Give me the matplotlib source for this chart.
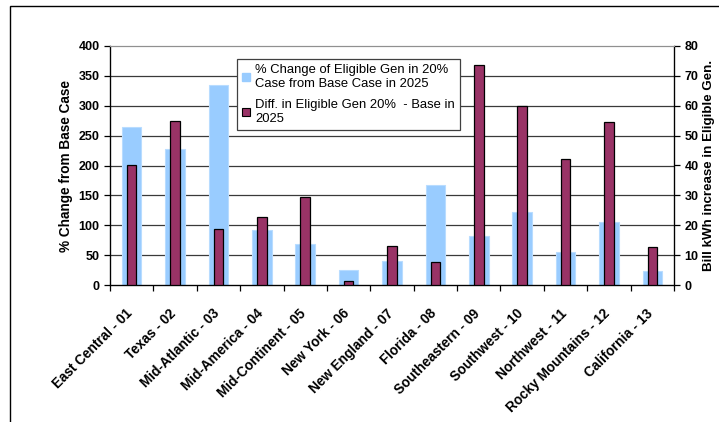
import matplotlib
matplotlib.use("Agg")
import matplotlib.pyplot as plt
import matplotlib.transforms as mtransforms
import numpy as np
from matplotlib.patches import Rectangle

plt.rcParams['font.family'] = ['Liberation Sans', 'DejaVu Sans']

regions = ["East Central - 01", "Texas - 02", "Mid-Atlantic - 03", "Mid-America - 04",
           "Mid-Continent - 05", "New York - 06", "New England - 07", "Florida - 08",
           "Southeastern - 09", "Southwest - 10", "Northwest - 11", "Rocky Mountains - 12",
           "California - 13"]
pct_change = [264, 228, 335, 92, 68, 25, 40, 167, 82, 122, 56, 106, 23]
diff_gen = [40, 54.8, 18.6, 22.6, 29.4, 1.3, 13.1, 7.8, 73.8, 59.8, 42.3, 54.5, 12.7]

left_ticks = [0, 50, 100, 150, 200, 250, 300, 350, 400]
right_ticks = [0, 10, 20, 30, 40, 50, 60, 70, 80]

blue = "#99CCFF"
plum = "#993366"

fig = plt.figure(figsize=(7.19, 4.22), dpi=100)
ax = fig.add_axes([110 / 719, 1 - 285 / 422, 564 / 719, 239 / 422])
ax2 = ax.twinx()

x = np.arange(len(regions))
ax.bar(x, pct_change, width=0.45, color=blue, edgecolor="#B8DCFF", linewidth=0.8, zorder=2)
ax2.bar(x, diff_gen, width=0.22, color=plum, edgecolor="black", linewidth=0.9, zorder=3)

ax.set_xlim(-0.5, len(regions) - 0.5)
ax.set_ylim(0, 400)
ax2.set_ylim(0, 80)
ax.set_yticks(left_ticks)
ax2.set_yticks(right_ticks)

for y in left_ticks[1:-1]:
    ax.axhline(y, color="#3a3a3a", linewidth=0.9, zorder=1)

# category labels at centres, tick marks at boundaries
ax.set_xticks(x)
ax.set_xticklabels(regions, rotation=45, ha="right", rotation_mode="anchor",
                   fontsize=9.8, fontweight="bold")
ax.tick_params(axis="x", which="major", length=0, pad=6)
shift = mtransforms.ScaledTranslation(-6 / 100, -13 / 100, fig.dpi_scale_trans)
for lab in ax.get_xticklabels():
    lab.set_transform(lab.get_transform() + shift)
ax.set_xticks(np.arange(-0.5, len(regions), 1.0), minor=True)
ax.tick_params(axis="x", which="minor", length=4, width=0.9, direction="out")

for a in (ax, ax2):
    a.tick_params(axis="y", length=4, width=0.9, direction="out", labelsize=9)
    for lab in a.get_yticklabels():
        lab.set_fontweight("bold")
    a.spines["top"].set_color("#909090")

ax.spines["left"].set_linewidth(0.9)
ax.spines["bottom"].set_linewidth(0.9)
ax2.spines["right"].set_linewidth(0.9)

ax.set_ylabel("% Change from Base Case", fontsize=9.8, fontweight="bold", labelpad=4)
ax2.set_ylabel("Bill kWh increase in Eligible Gen.", fontsize=9.6, fontweight="bold",
               labelpad=3)

handles = [Rectangle((0, 0), 1, 1, facecolor=blue, edgecolor=blue),
           Rectangle((0, 0), 1, 1, facecolor=plum, edgecolor="black", linewidth=0.8)]
labels = ["% Change of Eligible Gen in 20%\nCase from Base Case in 2025",
          "Diff. in Eligible Gen 20%  - Base in\n2025"]
leg = ax2.legend(handles, labels, loc="upper left",
                 bbox_to_anchor=(237 / 719, 1 - 59 / 422), bbox_transform=fig.transFigure,
                 fontsize=9.4, frameon=True, fancybox=False, framealpha=1,
                 handlelength=0.6, handleheight=0.6, handletextpad=0.4,
                 borderpad=0.4, labelspacing=0.7, borderaxespad=0)
leg.get_frame().set_edgecolor("#404040")
leg.get_frame().set_linewidth(0.9)
leg.set_zorder(10)

# outer chart border (partly cut off at the right and bottom)
fig.patches.append(Rectangle((10 / 719, -0.1), 1.2, 1 - 6 / 422 + 0.1,
                             transform=fig.transFigure, fill=False,
                             edgecolor="black", linewidth=1.0))

fig.savefig("out.png", dpi=100)
